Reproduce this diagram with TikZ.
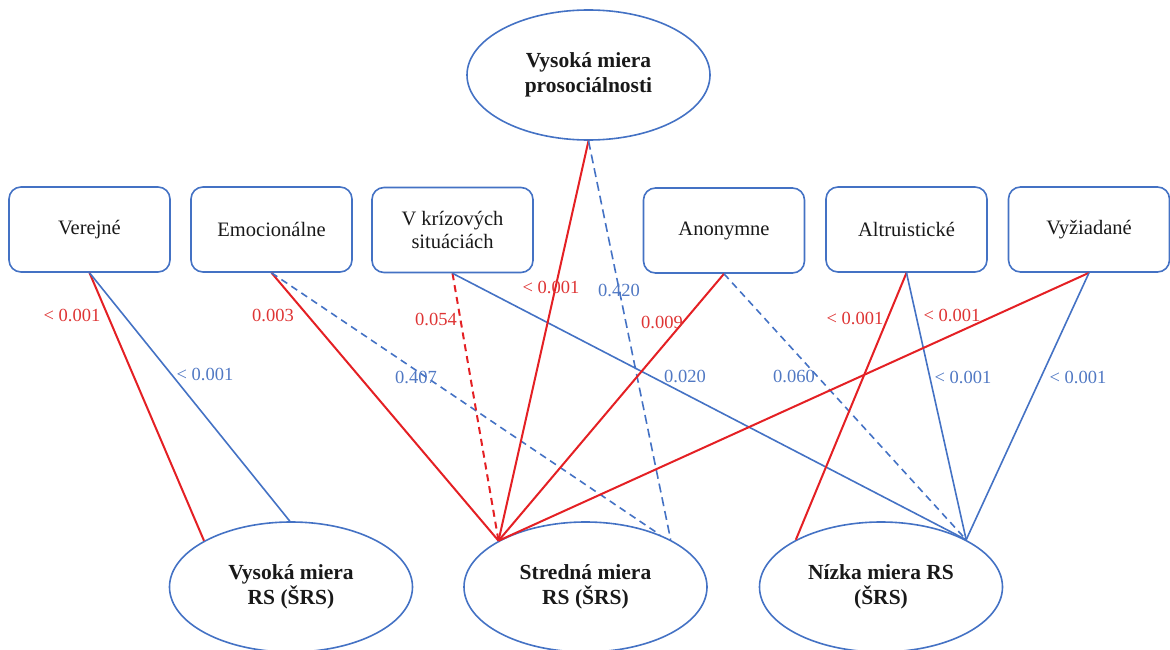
\documentclass[tikz,border=0pt]{standalone}
\usepackage{fontspec}
\setmainfont{Liberation Serif}
\usetikzlibrary{shapes.geometric}
\definecolor{myblue}{RGB}{68,114,196}
\definecolor{myred}{RGB}{228,32,36}
\definecolor{labred}{RGB}{222,52,52}
\definecolor{labblue}{RGB}{80,120,195}
\definecolor{txt}{RGB}{25,25,25}
\tikzset{
  boxnode/.style={draw=myblue, line width=1.6pt, rounded corners=12pt, minimum width=161pt, minimum height=85pt, align=center, font=\fontsize{20.5}{23.5}\selectfont, text=txt},
  ellnode/.style={draw=myblue, line width=1.6pt, ellipse, minimum width=243pt, minimum height=130pt, inner sep=0pt, align=center, font=\fontsize{21.5}{25}\selectfont\bfseries, text=txt},
  redl/.style={draw=myred, line width=2pt},
  bluel/.style={draw=myblue, line width=1.6pt},
  dashy/.style={dash pattern=on 7pt off 5pt},
  rlab/.style={text=labred, font=\fontsize{18.5}{20}\selectfont, inner sep=1pt},
  blab/.style={text=labblue, font=\fontsize{18.5}{20}\selectfont, inner sep=1pt}
}
\begin{document}
\begin{tikzpicture}[x=1pt,y=-1pt]
\useasboundingbox (0,0) rectangle (1170,650);
% top ellipse
\node[ellnode] (pro) at (588.5,75) {Vysoká miera\\prosociálnosti};
% boxes
\node[boxnode] (ver) at (89.5,229.5) {Verejné};
\node[boxnode] (emo) at (271.5,229.5) {Emocionálne};
\node[boxnode] (kri) at (452.5,230) {V krízových\\situáciách};
\node[boxnode] (ano) at (724,230.5) {Anonymne};
\node[boxnode] (alt) at (906.5,229.5) {Altruistické};
\node[boxnode] (vyz) at (1089,229.5) {Vyžiadané};
% bottom ellipses
\node[ellnode] (vys) at (291,587) {Vysoká miera\\RS (ŠRS)};
\node[ellnode] (str) at (585.5,587) {Stredná miera\\RS (ŠRS)};
\node[ellnode] (niz) at (881,587) {Nízka miera RS\\(ŠRS)};
% connectors
\draw[redl] (ver.south) -- (vys.152);
\draw[bluel] (ver.south) -- (vys.91);
\draw[redl] (emo.south) -- (str.152);
\draw[bluel,dashy] (emo.south) -- (str.35);
\draw[redl,dashy] (kri.south) -- (str.152);
\draw[bluel] (kri.south) -- (niz.29.5);
\draw[redl] (pro.south) -- (str.152);
\draw[bluel,dash pattern=on 9pt off 5pt] (pro.south) -- (str.29);
\draw[redl] (ano.south) -- (str.152);
\draw[bluel,dashy] (ano.south) -- (niz.29.5);
\draw[redl] (alt.south) -- (niz.151);
\draw[bluel] (alt.south) -- (niz.29.5);
\draw[redl] (vyz.south) -- (str.152);
\draw[bluel] (vyz.south) -- (niz.29.5);
% labels
\node[rlab] (l1) at (72,315) {< 0.001};
\node[blab] (l2) at (205,374) {< 0.001};
\node[rlab] (l3) at (273,315) {0.003};
\node[blab] (l4) at (416,377) {0.407};
\node[rlab] (l5) at (436,319) {0.054};
\node[rlab] (l6) at (551,287) {< 0.001};
\node[blab] (l7) at (619,290) {0.420};
\node[rlab] (l8) at (662,322) {0.009};
\node[blab] (l9) at (685,376) {0.020};
\node[blab] (l10) at (794,376) {0.060};
\node[rlab] (l11) at (855,318) {< 0.001};
\node[rlab] (l12) at (952,315) {< 0.001};
\node[blab] (l13) at (963,377) {< 0.001};
\node[blab] (l14) at (1078,377) {< 0.001};
\end{tikzpicture}
\end{document}
